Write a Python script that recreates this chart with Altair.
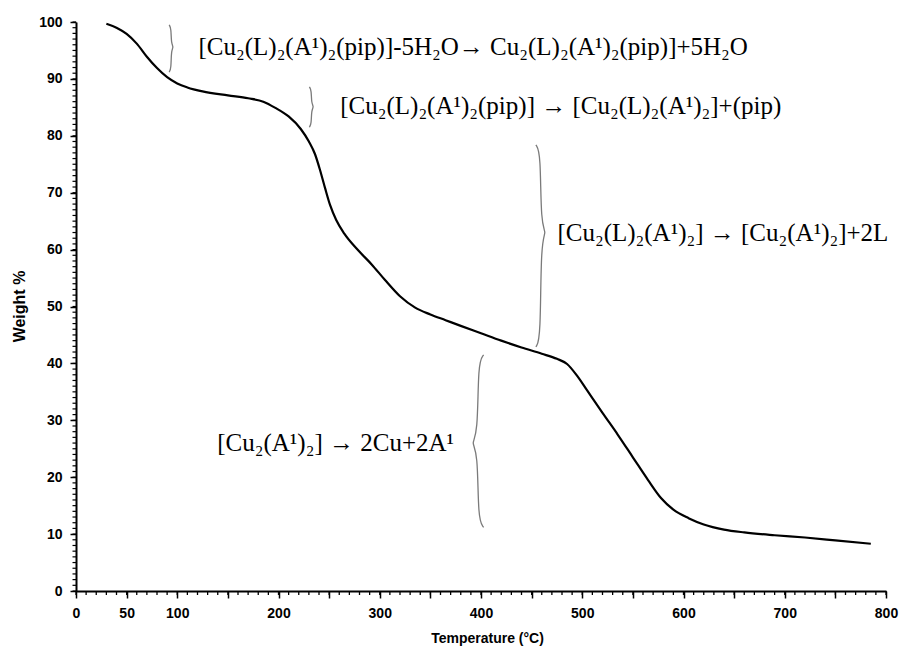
import json
import altair as alt
import pandas as pd

# ---- TGA curve ----
temperature = [30, 40, 50, 60, 70, 80, 90, 100, 110, 125, 150, 170, 185, 197, 210,
               222, 230, 236, 241, 246, 251, 257, 265, 278, 292, 305, 320, 335, 350,
               365, 380, 400, 420, 440, 460, 475, 485, 495, 505, 520, 535, 550, 565,
               578, 590, 605, 620, 640, 660, 690, 720, 750, 785]
weight = [99.7, 99.0, 97.9, 96.2, 93.9, 91.9, 90.3, 89.2, 88.5, 87.8, 87.1, 86.6, 86.0,
          84.9, 83.4, 81.2, 79.0, 76.8, 74.0, 70.8, 67.8, 65.2, 62.8, 60.0, 57.4, 54.7,
          51.8, 49.8, 48.6, 47.6, 46.6, 45.3, 44.0, 42.8, 41.7, 40.8, 39.9, 37.8, 35.2,
          31.3, 27.5, 23.5, 19.5, 16.3, 14.3, 12.8, 11.7, 10.8, 10.3, 9.8, 9.4, 8.9, 8.3]

# ---- axes ----
x_major_ticks = list(range(0, 801, 50))
x_labels = [0, 50, 100, 200, 300, 400, 500, 600, 700, 800]
x_minor_ticks = list(range(0, 801, 10))
y_major_ticks = list(range(0, 101, 10))
y_minor_ticks = list(range(0, 101, 1))

# ---- reaction annotations ----
reaction_labels = [
    "[Cu₂(L)₂(A¹)₂(pip)]-5H₂O→ Cu₂(L)₂(A¹)₂(pip)]+5H₂O",
    "[Cu₂(L)₂(A¹)₂(pip)] → [Cu₂(L)₂(A¹)₂]+(pip)",
    "[Cu₂(L)₂(A¹)₂] → [Cu₂(A¹)₂]+2L",
    "[Cu₂(A¹)₂] → 2Cu+2A¹",
]
label_T = [121, 261, 475.5, 139.5]
label_W = [95.6, 85.2, 63.0, 26.0]

# braces: position, vertical extent, tip and direction (1 = "}", -1 = "{")
brace_T = [94, 232.5, 459, 397]
brace_top = [99.5, 88.6, 78.4, 41.5]
brace_bottom = [91.2, 81.5, 42.9, 11.2]
brace_tip = [95.6, 85.1, 63.0, 26.0]
brace_dir = [1, 1, 1, -1]
brace_w = [2.5, 2.5, 6, 7]
brace_c = [0.6, 0.6, 1.3, 1.3]

W_PX, H_PX = 810, 569

curve_df = pd.DataFrame({"T": temperature, "W": weight})
label_df = pd.DataFrame({"T": label_T, "W": label_W, "txt": reaction_labels})
xminor_df = pd.DataFrame({"T": x_minor_ticks})
yminor_df = pd.DataFrame({"W": y_minor_ticks})

rows = []
for i in range(len(brace_T)):
    x, t, b, m, d, w, c = (brace_T[i], brace_top[i], brace_bottom[i], brace_tip[i],
                           brace_dir[i], brace_w[i], brace_c[i])
    pts = [(x - d * w * 0.8, t), (x, t - c), (x, m + c), (x + d * w, m),
           (x, m - c), (x, b + c), (x - d * w * 0.8, b)]
    for k, (px, py) in enumerate(pts):
        rows.append({"brace": i, "k": k, "T": px, "W": py})
brace_df = pd.DataFrame(rows)

xscale = alt.Scale(domain=[0, 800], nice=False, zero=False)
yscale = alt.Scale(domain=[0, 100], nice=False, zero=False)

label_expr = "indexof(" + json.dumps(x_labels) + ", datum.value) >= 0 ? datum.label : ''"

axis_font = "Liberation Sans"

x_major_axis = alt.Axis(
    orient="bottom", values=x_major_ticks, labelExpr=label_expr, grid=False,
    tickSize=7, tickWidth=1.5, tickColor="black", domainColor="black", domainWidth=2,
    labelFont=axis_font, labelFontSize=14, labelFontWeight="bold", labelColor="black",
    labelPadding=8, labelFlush=False, labelOverlap=False,
    title="Temperature (°C)", titleFont=axis_font, titleFontSize=14,
    titleFontWeight="bold", titleColor="black", titleX=411, titleY=47,
    titleBaseline="middle", titleAnchor="middle", titleAlign="center")
y_major_axis = alt.Axis(
    orient="left", values=y_major_ticks, grid=False,
    tickSize=6, tickWidth=1.5, tickColor="black", domainColor="black", domainWidth=2,
    labelFont=axis_font, labelFontSize=14, labelFontWeight="bold", labelColor="black",
    labelPadding=8, labelFlush=False, labelOverlap=False,
    title="Weight %", titleFont=axis_font, titleFontSize=16, titleFontWeight="bold",
    titleColor="black", titleX=-57, titleY=284, titleBaseline="middle",
    titleAlign="center", titleAngle=270)

curve = alt.Chart(curve_df).mark_line(
    color="black", strokeWidth=2.2, interpolate="monotone").encode(
    x=alt.X("T:Q", scale=xscale, axis=x_major_axis),
    y=alt.Y("W:Q", scale=yscale, axis=y_major_axis),
)

x_minor = alt.Chart(xminor_df).mark_rule(color="black", strokeWidth=1.3).encode(
    x=alt.X("T:Q", scale=xscale),
    y=alt.value(H_PX),
    y2=alt.value(H_PX + 4),
)
y_minor = alt.Chart(yminor_df).mark_rule(color="black", strokeWidth=1.2).encode(
    y=alt.Y("W:Q", scale=yscale),
    x=alt.value(0),
    x2=alt.value(-3.5),
)

braces = alt.Chart(brace_df).mark_line(
    color="#7a7a7a", strokeWidth=1.3, interpolate="basis").encode(
    x=alt.X("T:Q", scale=xscale),
    y=alt.Y("W:Q", scale=yscale),
    detail="brace:N",
    order="k:Q",
)

labels = alt.Chart(label_df).mark_text(
    align="left", baseline="middle", font="Liberation Serif", fontSize=25,
    color="black").encode(
    x=alt.X("T:Q", scale=xscale),
    y=alt.Y("W:Q", scale=yscale),
    text="txt:N",
)

chart = alt.layer(curve, x_minor, y_minor, braces, labels).properties(
    width=W_PX, height=H_PX,
    autosize=alt.AutoSizeParams(type="none"),
    padding={"left": 68, "top": 14, "right": 13, "bottom": 56},
    background="white",
).configure_view(stroke=None)

chart.save("out.html", embed_options={"renderer": "svg", "actions": False})
